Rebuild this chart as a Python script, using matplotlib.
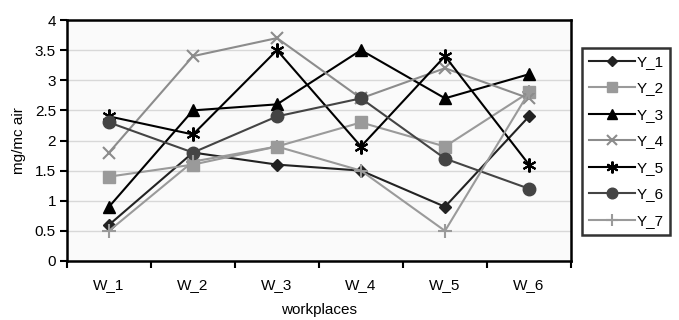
import matplotlib
matplotlib.use("Agg")
import matplotlib.pyplot as plt
import numpy as np

plt.rcParams['font.family'] = ['Liberation Sans', 'DejaVu Sans']

categories = ["W_1", "W_2", "W_3", "W_4", "W_5", "W_6"]
Y_1 = [0.6, 1.8, 1.6, 1.5, 0.9, 2.4]
Y_2 = [1.4, 1.6, 1.9, 2.3, 1.9, 2.8]
Y_3 = [0.9, 2.5, 2.6, 3.5, 2.7, 3.1]
Y_4 = [1.8, 3.4, 3.7, 2.7, 3.2, 2.7]
Y_5 = [2.4, 2.1, 3.5, 1.9, 3.4, 1.6]
Y_6 = [2.3, 1.8, 2.4, 2.7, 1.7, 1.2]
Y_7 = [0.5, 1.65, 1.9, 1.5, 0.5, 2.8]
series_names = ["Y_1", "Y_2", "Y_3", "Y_4", "Y_5", "Y_6", "Y_7"]
series_values = [Y_1, Y_2, Y_3, Y_4, Y_5, Y_6, Y_7]

styles = [
    dict(color="#222222", marker="D", ms=6),
    dict(color="#9a9a9a", marker="s", ms=8),
    dict(color="#000000", marker="^", ms=8),
    dict(color="#8c8c8c", marker="x", ms=9, mew=1.5),
    dict(color="#000000", marker=(6, 2, 0), ms=10, mew=1.5),
    dict(color="#444444", marker="o", ms=9),
    dict(color="#9a9a9a", marker="+", ms=10, mew=1.5),
]

fig = plt.figure(figsize=(6.79, 3.2), dpi=100)
ax = fig.add_axes([67/679, 1-261/320, (571-67)/679, (261-20)/320])
ax.set_facecolor("#fafafa")

x = np.arange(len(categories))
for name, vals, st in zip(series_names, series_values, styles):
    ax.plot(x, vals, label=name, lw=1.5, **st)

ax.set_xlim(-0.5, len(categories) - 0.5)
ax.set_ylim(0, 4)
ax.set_yticks(np.arange(0, 4.01, 0.5))
ax.set_yticklabels(["0", "0.5", "1", "1.5", "2", "2.5", "3", "3.5", "4"])
ax.set_xticks(x)
ax.set_xticklabels(categories)
ax.set_xticks(np.arange(-0.5, len(categories), 1), minor=True)
ax.tick_params(axis='x', which='major', length=0, pad=12, labelsize=11)
ax.tick_params(axis='x', which='minor', length=5, width=1.5, direction='out')
ax.tick_params(axis='y', length=5, width=1.5, direction='out', labelsize=11, pad=3)
ax.grid(axis='y', color="#d8d8d8", lw=1)
ax.set_axisbelow(True)
for s in ax.spines.values():
    s.set_linewidth(1.8)
    s.set_color("black")

ax.set_xlabel("workplaces", fontsize=11, labelpad=8)
ax.set_ylabel("mg/mc air", fontsize=11, labelpad=6)

leg = fig.legend(loc="upper left", bbox_to_anchor=(582/679, 1-48/320),
                 frameon=True, fancybox=False, edgecolor="black",
                 fontsize=11, handlelength=3.0, handletextpad=0.1,
                 labelspacing=0.82, borderpad=0.45, borderaxespad=0,
                 markerscale=0.85)
leg.get_frame().set_linewidth(1.8)

fig.savefig("out.png", dpi=100)
